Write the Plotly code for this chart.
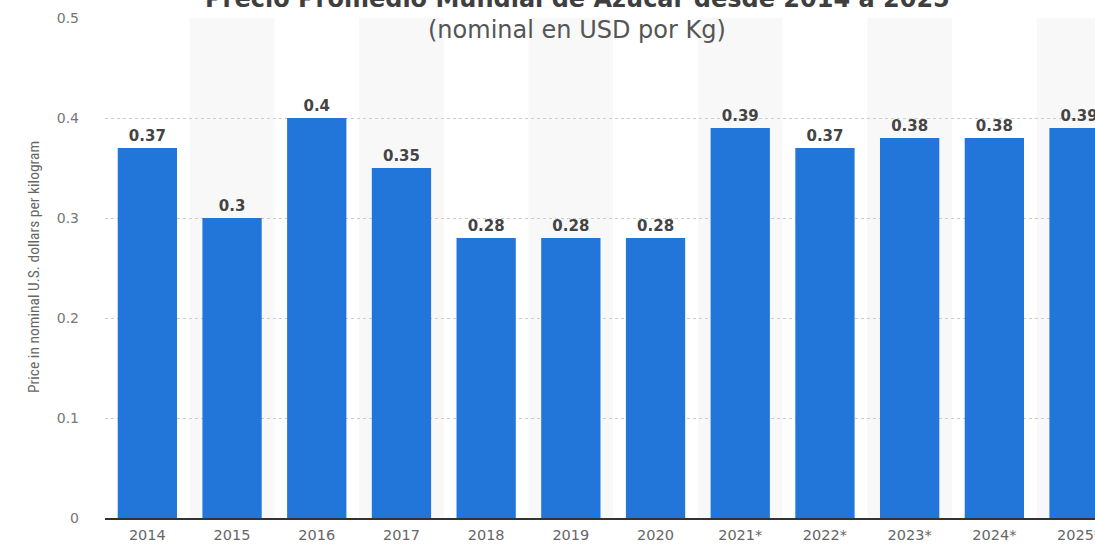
import plotly.graph_objects as go

categories = ["2014", "2015", "2016", "2017", "2018", "2019", "2020",
              "2021*", "2022*", "2023*", "2024*", "2025*"]
prices = [0.37, 0.30, 0.40, 0.35, 0.28, 0.28, 0.28, 0.39, 0.37, 0.38, 0.38, 0.39]
labels = ["0.37", "0.3", "0.4", "0.35", "0.28", "0.28", "0.28",
          "0.39", "0.37", "0.38", "0.38", "0.39"]
y_ticks = [0, 0.1, 0.2, 0.3, 0.4, 0.5]
y_tick_text = ["0", "0.1", "0.2", "0.3", "0.4", "0.5"]

W, H = 1095, 544
ML, MR, MT, MB = 105, 0, 18, 26
cat_w = 84.7
plot_w = W - ML - MR
plot_h = H - MT - MB
x_max = -0.5 + plot_w / cat_w

fig = go.Figure()
fig.add_trace(go.Bar(
    x=list(range(len(categories))), y=prices,
    text=labels, textposition="outside", cliponaxis=False,
    textfont=dict(family="DejaVu Sans", size=15, color="#444444", weight="bold"),
    marker=dict(color="#2376d9", line=dict(width=0)),
    width=0.70,
    hoverinfo="skip",
))

shapes = []
for i in range(len(categories)):
    if i % 2 == 1:
        shapes.append(dict(type="rect", xref="x", yref="paper",
                           x0=i - 0.5, x1=i + 0.5, y0=0, y1=1,
                           fillcolor="#f8f8f8", line=dict(width=0), layer="below"))

fig.update_layout(
    width=W, height=H,
    margin=dict(l=ML, r=MR, t=MT, b=MB, autoexpand=False),
    paper_bgcolor="white", plot_bgcolor="white",
    showlegend=False,
    shapes=shapes,
    font=dict(family="DejaVu Sans", color="#666666"),
    xaxis=dict(
        range=[-0.5, x_max],
        tickmode="array", tickvals=list(range(len(categories))), ticktext=categories,
        tickfont=dict(family="DejaVu Sans", size=14.5, color="#666666"),
        showgrid=False, zeroline=False,
        showline=True, linecolor="#333333", linewidth=2,
        ticks="", automargin=False, fixedrange=True,
        ticklabelstandoff=3, ticklabeloverflow="allow",
    ),
    yaxis=dict(
        range=[0, 0.5],
        tickmode="array", tickvals=y_ticks, ticktext=y_tick_text,
        tickfont=dict(family="DejaVu Sans", size=14, color="#777777"),
        showgrid=True, gridcolor="#cccccc", gridwidth=1, griddash="dot",
        zeroline=False, showline=False, ticks="",
        ticklabelstandoff=25, automargin=False, fixedrange=True,
    ),
    annotations=[
        dict(text="<b>Precio Promedio Mundial de Azúcar desde 2014 a 2025</b>",
             xref="paper", yref="paper", x=(577 - ML) / plot_w, y=1 + (18 - (-1)) / plot_h,
             xanchor="center", yanchor="middle", showarrow=False,
             font=dict(family="DejaVu Sans", size=24, color="#3f3f3f")),
        dict(text="(nominal en USD por Kg)",
             xref="paper", yref="paper", x=(577 - ML) / plot_w, y=1 - (30 - 18) / plot_h,
             xanchor="center", yanchor="middle", showarrow=False,
             font=dict(family="DejaVu Sans", size=24, color="#555555")),
        dict(text="Price in nominal U.S. dollars per kilogram",
             xref="paper", yref="paper", x=(34 - ML) / plot_w, y=1 - (267 - 18) / plot_h,
             xanchor="center", yanchor="middle", textangle=-90, showarrow=False,
             font=dict(family="Liberation Sans Narrow, Roboto Condensed, sans-serif", size=15.5, color="#666666")),
    ],
)

fig.write_html("out.html", config={"displayModeBar": False},
               post_script="document.body.style.margin='0';document.body.style.overflow='hidden';")
